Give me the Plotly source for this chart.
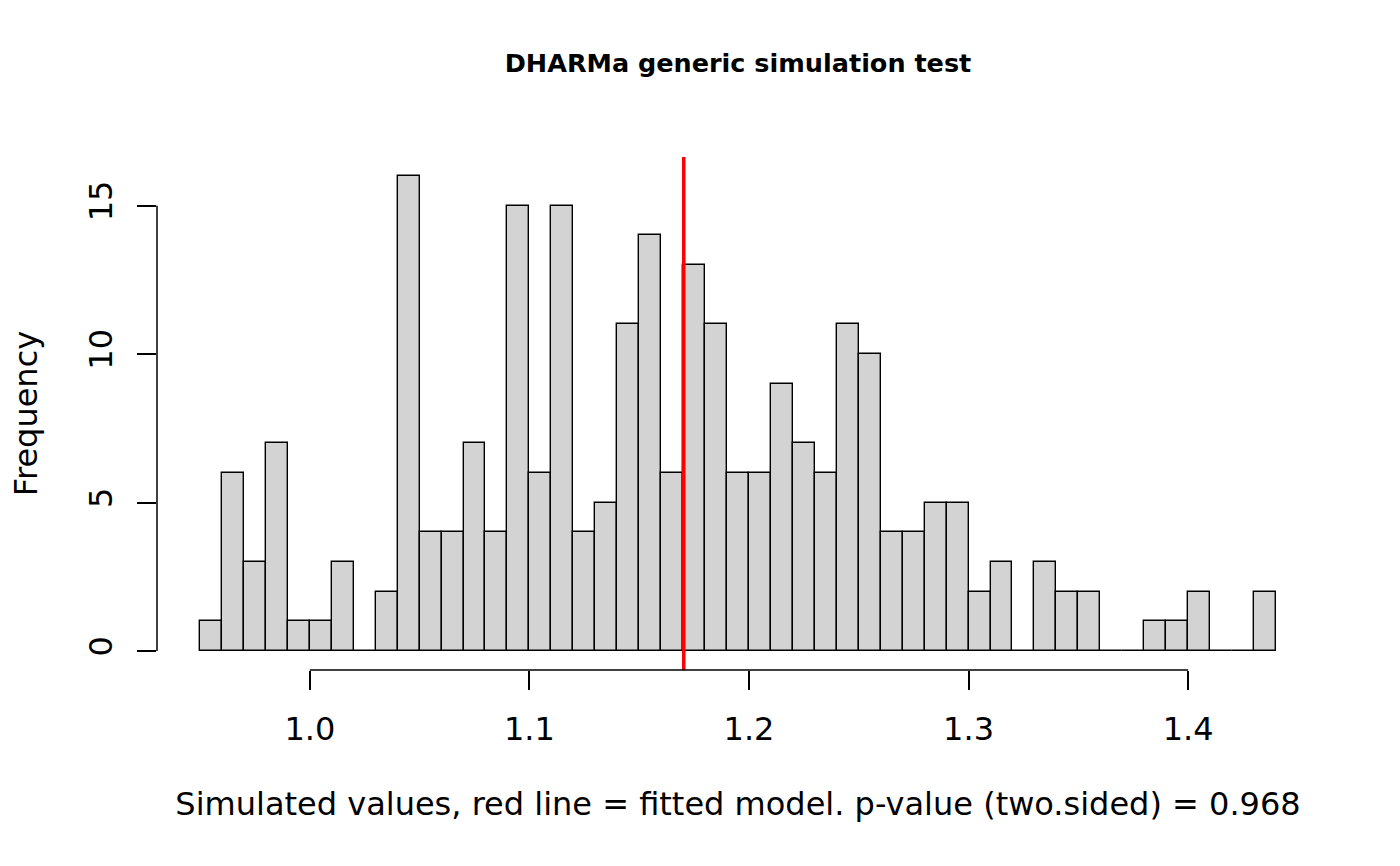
import plotly.graph_objects as go

bin_start = 0.95
bin_width = 0.01
counts = [1, 6, 3, 7, 1, 1, 3, 0, 2, 16, 4, 4, 7, 4, 15, 6, 15, 4, 5, 11,
          14, 6, 13, 11, 6, 6, 9, 7, 6, 11, 10, 4, 4, 5, 5, 2, 3, 0, 3, 2,
          2, 0, 0, 1, 1, 2, 0, 0, 2]
observed = 1.1703
x_ticks = [1.0, 1.1, 1.2, 1.3, 1.4]
x_tick_labels = ["1.0", "1.1", "1.2", "1.3", "1.4"]
y_ticks = [0, 5, 10, 15]
title = "DHARMa generic simulation test"
x_title = "Simulated values, red line = fitted model. p-value (two.sided) = 0.968"
y_title = "Frequency"

centers = [bin_start + bin_width * (i + 0.5) for i in range(len(counts))]
lo = bin_start
hi = bin_start + bin_width * len(counts)
ymax = max(counts)
xpad = (hi - lo) * 0.04
ypad = ymax * 0.04

font = "DejaVu Sans"
fs = 32
left, right = 157.2, 1318.8
fig = go.Figure()
fig.add_trace(go.Bar(
    x=centers, y=counts, width=bin_width,
    marker=dict(color="#D3D3D3", line=dict(color="black", width=1.4)),
    showlegend=False, hoverinfo="skip",
))

fig.add_shape(type="line", xref="x", yref="y", x0=observed, x1=observed,
              y0=-ypad, y1=ymax + ypad, line=dict(color="red", width=3.5))
# partial axis lines like R base graphics
fig.add_shape(type="line", xref="x", yref="paper", x0=x_ticks[0], x1=x_ticks[-1],
              y0=0, y1=0, line=dict(color="black", width=1.5))
fig.add_shape(type="line", xref="paper", yref="y", x0=0, x1=0,
              y0=y_ticks[0], y1=y_ticks[-1], line=dict(color="black", width=1.5))

fig.update_layout(
    width=1400, height=866,
    margin=dict(l=left, r=1400 - right, t=157, b=196, autoexpand=False),
    plot_bgcolor="white", paper_bgcolor="white",
    font=dict(family=font, color="black", size=fs),
    bargap=0,
    title=dict(text="<b>" + title + "</b>", x=(left + right) / 2 / 1400,
               xanchor="center", y=1 - 63 / 866, yanchor="middle",
               font=dict(size=25.5, family=font)),
    xaxis=dict(range=[lo - xpad, hi + xpad], tickvals=x_ticks, ticktext=x_tick_labels,
               ticks="outside", ticklen=19, tickwidth=1.5, tickcolor="black",
               showline=False, showgrid=False, zeroline=False, automargin=False,
               tickfont=dict(size=fs), ticklabelstandoff=12,
               title=dict(text=x_title, font=dict(size=fs), standoff=45)),
    yaxis=dict(range=[-ypad, ymax + ypad], tickvals=y_ticks,
               ticks="outside", ticklen=19, tickwidth=1.5, tickcolor="black",
               showline=False, showgrid=False, zeroline=False, tickangle=-90,
               automargin=False,
               tickfont=dict(size=fs), ticklabelstandoff=12,
               title=dict(text=y_title, font=dict(size=fs), standoff=35)),
)

fig.write_html("out.html", config={"displayModeBar": False},
               post_script="document.body.style.margin='0';")
